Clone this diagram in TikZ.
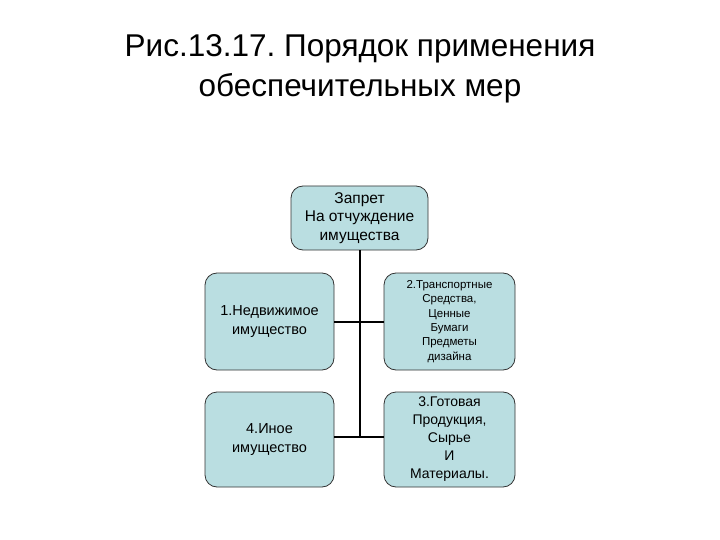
\documentclass[tikz,border=0pt]{standalone}
\usepackage{fontspec}
\setmainfont{Liberation Sans}
\definecolor{boxfill}{RGB}{186,222,225}
\frenchspacing
\begin{document}
\begin{tikzpicture}[x=1pt,y=-1pt,
  box/.style={draw=black!80, line width=0.8pt, fill=boxfill, rounded corners=12pt, align=center, inner sep=0pt, font=\fontsize{14.5}{19}\selectfont},
  conn/.style={draw=black, line width=2pt}]
\useasboundingbox (0,0) rectangle (720,540);
\node[font=\fontsize{31.5}{40}\selectfont, align=center] (title) at (360,69) {Рис.13.17. Порядок применения\\обеспечительных мер};
\node[box, minimum width=137pt, minimum height=64pt, font=\fontsize{15.5}{18.5}\selectfont] (top) at (359.5,218) {Запрет\\На отчуждение\\имущества};
\node[box, minimum width=129pt, minimum height=97pt] (b1) at (269.5,321.5) {1.Недвижимое\\имущество};
\node[box, minimum width=131pt, minimum height=97pt, font=\fontsize{11.5}{14.4}\selectfont] (b2) at (449.5,321.5) {2.Транспортные\\Средства,\\Ценные\\Бумаги\\Предметы\\дизайна};
\node[box, minimum width=129pt, minimum height=95pt] (b4) at (269.5,439.5) {4.Иное\\имущество};
\node[box, minimum width=131pt, minimum height=95pt, font=\fontsize{14}{18}\selectfont] (b3) at (449.5,439.5) {3.Готовая\\Продукция,\\Сырье\\И\\Материалы.};
\coordinate (j1) at (360,321.5);
\coordinate (j2) at (360,437);
\draw[conn] (top.south -| j1) -- (j2);
\draw[conn] (b1.east) -- (b2.west);
\draw[conn] (b4.east |- j2) -- (b3.west |- j2);
\end{tikzpicture}
\end{document}
